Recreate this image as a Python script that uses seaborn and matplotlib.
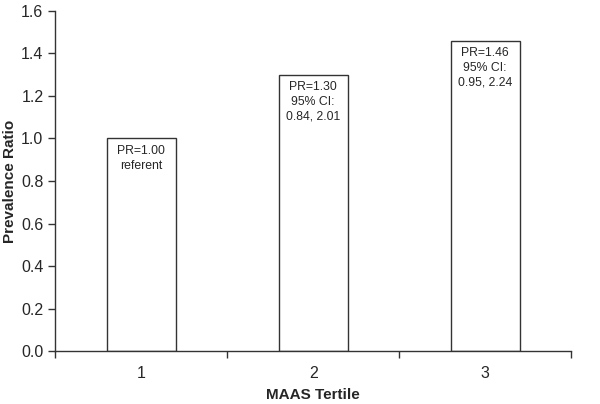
import matplotlib
matplotlib.use('Agg')
import matplotlib.pyplot as plt
import seaborn as sns
import pandas as pd
from matplotlib.ticker import FixedLocator

sns.set_style('ticks')
plt.rcParams['font.family'] = ['Liberation Sans', 'DejaVu Sans']

TERTILES = ['1', '2', '3']
RATIOS   = [1.00, 1.30, 1.46]
NOTES    = ['PR=1.00\nreferent',
            'PR=1.30\n95% CI:\n0.84, 2.01',
            'PR=1.46\n95% CI:\n0.95, 2.24']

df = pd.DataFrame({'tertile': TERTILES, 'pr': RATIOS})

fig = plt.figure(figsize=(6.0, 4.04), dpi=100)
ax = fig.add_axes([0.092, 0.131, 0.860, 0.842])

sns.barplot(data=df, x='tertile', y='pr', color='white', edgecolor='#333333',
            linewidth=1.0, width=0.40, ax=ax)

for i, (v, txt) in enumerate(zip(RATIOS, NOTES)):
    ax.text(i, v - 0.03, txt, ha='center', va='top', fontsize=8.8, linespacing=1.3)

ax.set_ylim(0, 1.6)
ax.set_xlim(-0.5, 2.5)
ax.set_yticks([i * 0.2 for i in range(9)])
ax.set_yticklabels([f'{i * 0.2:.1f}' for i in range(9)])
ax.xaxis.set_minor_locator(FixedLocator([-0.5, 0.5, 1.5, 2.5]))
ax.tick_params(axis='x', which='major', length=0, labelsize=11.5, pad=11)
ax.tick_params(axis='x', which='minor', length=5, width=1, color='#333333')
ax.tick_params(axis='y', length=5, width=1, color='#333333', labelsize=11.5)

ax.set_xlabel('MAAS Tertile', fontsize=11, fontweight='bold', labelpad=5)
ax.set_ylabel('Prevalence Ratio', fontsize=11, fontweight='bold', va='center')
ax.yaxis.set_label_coords(-0.087, 0.5)

sns.despine(ax=ax)
for s in ['left', 'bottom']:
    ax.spines[s].set_color('#333333')
    ax.spines[s].set_linewidth(1.0)

fig.savefig('out.png', dpi=100)
